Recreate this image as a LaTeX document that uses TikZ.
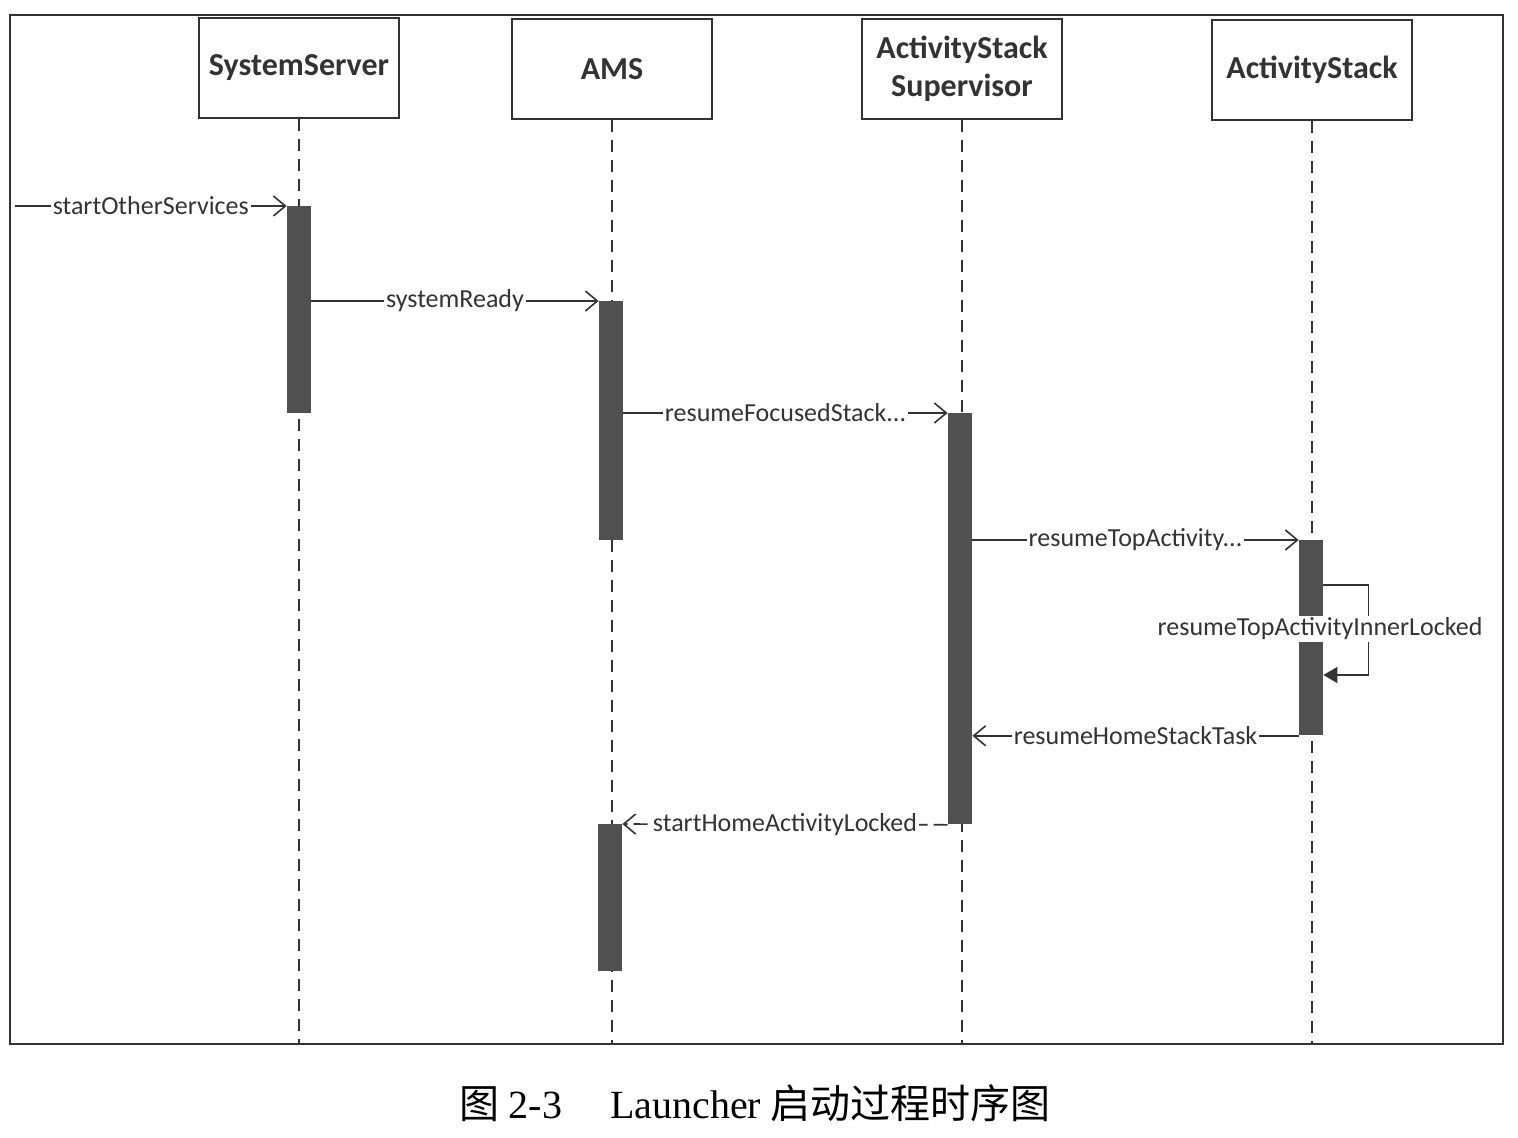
\documentclass[tikz,border=0pt]{standalone}
\usepackage{fontspec}
\setmainfont{Carlito}
\newfontfamily\capfont{Liberation Serif}
\newfontfamily\cjkfont{Noto Sans CJK SC}
\usetikzlibrary{arrows.meta}
\definecolor{ink}{HTML}{333333}
\definecolor{barc}{HTML}{505050}
\tikzset{
  frm/.style={draw=ink, line width=1pt, inner sep=0pt},
  head/.style={draw=ink, line width=1pt, fill=white, minimum width=100pt, minimum height=50pt,
    align=center, text=ink, font=\bfseries\fontsize{16}{19}\selectfont},
  life/.style={draw=ink, line width=0.9pt, dash pattern=on 6pt off 4pt},
  actbar/.style={fill=barc, draw=none, inner sep=0pt, minimum width=12pt, anchor=north},
  msg/.style={draw=ink, line width=0.8pt, -{Straight Barb[length=6pt,width=10pt,line width=0.8pt]}},
  retmsg/.style={msg, dash pattern=on 7pt off 3pt},
  selfmsg/.style={draw=ink, line width=0.8pt, -{Triangle[length=7pt,width=8pt]}},
  lbl/.style={fill=white, inner sep=1pt, text=ink, font=\fontsize{13}{15}\selectfont},
}
\begin{document}
\begin{tikzpicture}[x=0.5pt,y=-0.5pt]
\useasboundingbox (0,0) rectangle (1518,1138);
\node[frm, minimum width=746.5pt, minimum height=514.5pt] (frame) at (756.5,529.5) {};
% headers
\node[head] (ss) at (299,68) {SystemServer};
\node[head] (ams) at (612,69) {AMS};
\node[head] (ass) at (962,69) {ActivityStack\\Supervisor};
\node[head] (as) at (1312,70) {ActivityStack};
% lifelines
\coordinate (ssE) at (298,1043);
\coordinate (amsE) at (611,1043);
\coordinate (assE) at (961,1043);
\coordinate (asE) at (1311,1043);
\draw[life] (ss.south) -- (ss.south |- ssE);
\draw[life] (ams.south) -- (ams.south |- amsE);
\draw[life] (ass.south) -- (ass.south |- assE);
\draw[life] (as.south) -- (as.south |- asE);
% activation bars
\node[actbar, minimum height=103.5pt] (b1) at (299,206) {};
\node[actbar, minimum height=119.5pt] (b2) at (611,301) {};
\node[actbar, minimum height=205.5pt] (b3) at (960,413) {};
\node[actbar, minimum height=97.5pt] (b4) at (1311,540) {};
\node[actbar, minimum height=73.5pt] (b5) at (610,824) {};
% messages
\coordinate (m0) at (15,206);
\draw[msg] (m0) -- (b1.north west) node[lbl, midway] {startOtherServices};
\draw[msg] (b1.east |- b2.north) -- (b2.north west) node[lbl, midway] {systemReady};
\draw[msg] (b2.east |- b3.north) -- (b3.north west) node[lbl, midway] {resumeFocusedStack...};
\draw[msg] (b3.east |- b4.north) -- (b4.north west) node[lbl, midway] {resumeTopActivity...};
\draw[selfmsg] ([yshift=-22.5pt]b4.north east) -- ++(45,0) |- ([yshift=-67.5pt]b4.north east);
\node[lbl] (selflbl) at (1320,629) {resumeTopActivityInnerLocked};
\draw[msg] (b4.south west) -- (b4.south west -| b3.east) node[lbl, midway] {resumeHomeStackTask};
\draw[retmsg] (b3.south west) -- (b5.north east) node[lbl, midway] {startHomeActivityLocked};
% caption
\node[text=black, font=\fontsize{20}{24}\selectfont, inner sep=0pt] (cap) at (755,1103)
  {{\cjkfont 图} {\capfont 2-3}\hspace{1.2em}{\capfont Launcher} {\cjkfont 启动过程时序图}};
\end{tikzpicture}
\end{document}
